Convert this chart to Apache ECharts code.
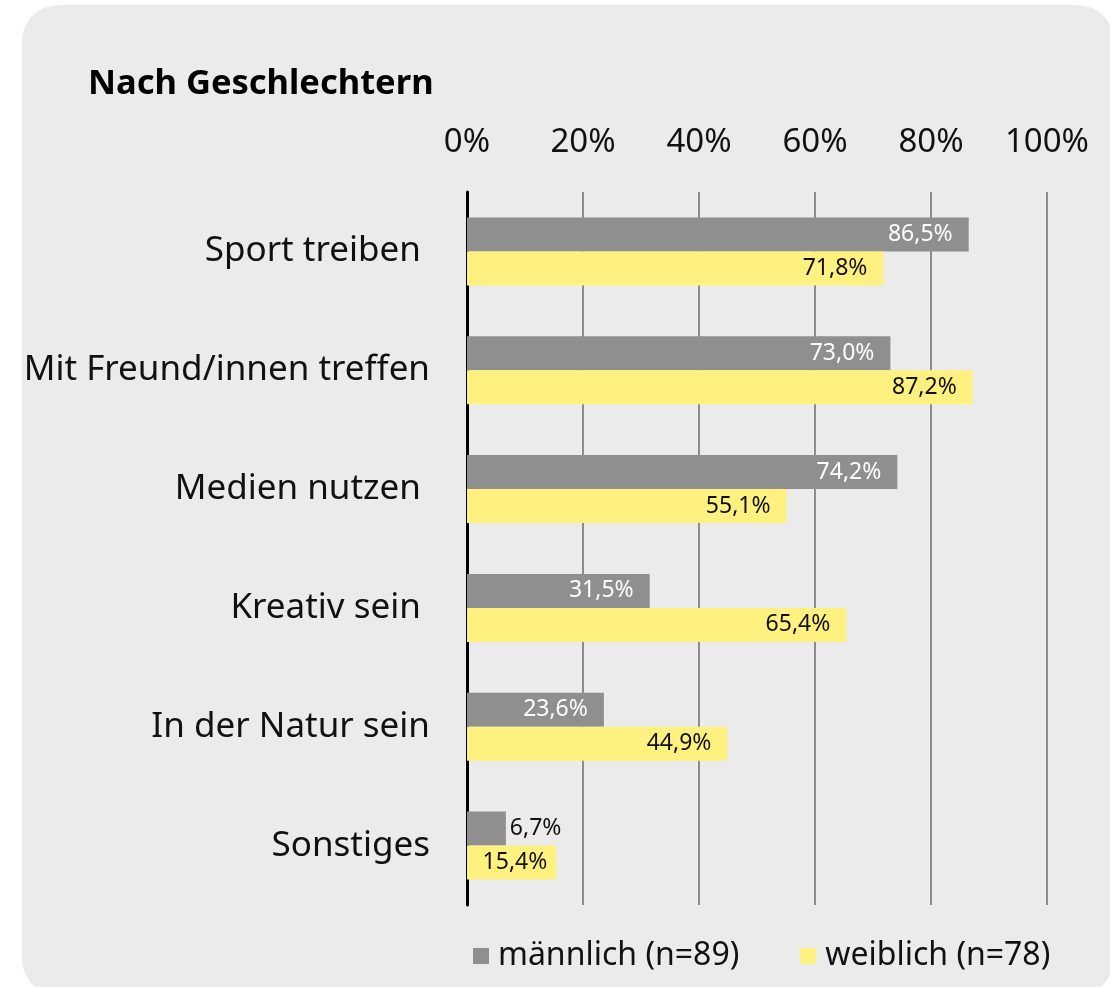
<!DOCTYPE html>
<html>
<head>
<meta charset="utf-8">
<script src="https://cdn.jsdelivr.net/npm/echarts@6/dist/echarts.min.js"></script>
<style>
  html, body { margin: 0; padding: 0; background: #ffffff; }
  #panel {
    position: absolute; left: 22px; top: 5px; width: 1092px; height: 990px;
    background: #ebebeb; border-radius: 36px;
  }
  #chart { position: absolute; left: 0; top: 0; width: 1110px; height: 987px; }
</style>
</head>
<body>
<div id="panel"></div>
<div id="chart"></div>
<script>
// Daten
const categories = ['Sport treiben ', 'Mit Freund/innen treffen', 'Medien nutzen ', 'Kreativ sein ', 'In der Natur sein', 'Sonstiges']
const maennlich = [86.5, 73.0, 74.2, 31.5, 23.6, 6.7]
const weiblich = [71.8, 87.2, 55.1, 65.4, 44.9, 15.4]
const seriesNames = ['männlich (n=89)', 'weiblich (n=78)']
const tickLabels = [0, 20, 40, 60, 80, 100]

const FONT = 'Noto Sans'

const fmt = v => v.toFixed(1).replace('.', ',') + '%'

const labelFor = color => ({
  show: true,
  position: 'insideRight',
  distance: 16,
  fontFamily: FONT,
  fontSize: 23,
  color: color,
  formatter: p => fmt(p.value)
})

// kleine Werte: Beschriftung rechts neben dem Balken
const makeData = arr => arr.map(v => v < 10
  ? { value: v, label: { position: 'right', color: '#111', distance: 4 } }
  : v < 20
    ? { value: v, label: { distance: 9 } }
    : v)

let myechart = echarts.init(document.getElementById('chart'))
myechart.setOption({
  backgroundColor: 'transparent',
  animation: false,
  title: {
    text: 'Nach Geschlechtern',
    left: 83,
    top: 62,
    textStyle: { fontFamily: FONT, fontWeight: 'bold', fontSize: 34.5, color: '#000' }
  },
  legend: {
    bottom: 10,
    left: 468,
    itemWidth: 16,
    itemHeight: 16,
    itemGap: 61,
    icon: 'rect',
    textStyle: { fontFamily: FONT, fontSize: 32, color: '#111', padding: [0, 0, 0, 4] },
    data: seriesNames
  },
  grid: {
    left: 467,
    right: 63,
    top: 192,
    bottom: 82
  },
  xAxis: {
    type: 'value',
    position: 'top',
    min: 0,
    max: 100,
    interval: 20,
    axisLine: { show: false },
    axisTick: { show: false },
    splitLine: { lineStyle: { color: '#8c8c8c', width: 2 } },
    axisLabel: {
      fontFamily: FONT,
      fontSize: 33,
      color: '#111',
      margin: 33,
      formatter: v => tickLabels.includes(v) ? v + '%' : ''
    }
  },
  yAxis: {
    type: 'category',
    inverse: true,
    data: categories,
    axisLine: { lineStyle: { color: '#000', width: 3 } },
    axisTick: { show: false },
    axisLabel: {
      fontFamily: FONT,
      fontSize: 35,
      color: '#111',
      margin: 37
    }
  },
  series: [
    {
      name: seriesNames[0],
      type: 'bar',
      data: makeData(maennlich),
      itemStyle: { color: '#8f8f8f' },
      barWidth: 34,
      barGap: '0%',
      label: labelFor('#ffffff')
    },
    {
      name: seriesNames[1],
      type: 'bar',
      data: makeData(weiblich),
      itemStyle: { color: '#fff17f' },
      barWidth: 34,
      barGap: '0%',
      label: labelFor('#111111')
    }
  ]
})
window.addEventListener('resize', () => myechart.resize())
</script>
</body>
</html>
